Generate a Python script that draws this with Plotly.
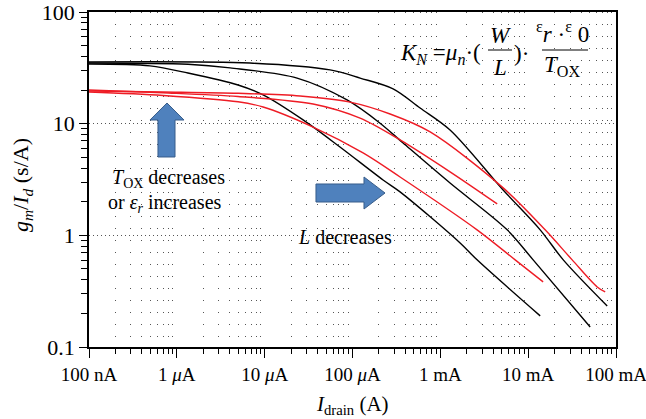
import plotly.graph_objects as go

# ---------------- data ----------------
x_tick_vals = [1e-7, 1e-6, 1e-5, 1e-4, 1e-3, 1e-2, 1e-1]
x_tick_text = ["100 nA", "1 <i>μ</i>A", "10 <i>μ</i>A", "100 <i>μ</i>A", "1 mA", "10 mA", "100 mA"]
y_tick_vals = [0.1, 1, 10, 100]
y_tick_text = ["0.1", "1", "10", "100"]

# black curves
b1_x = [1e-7, 4.95e-7, 1.34e-6, 4.98e-6, 9.6e-6, 2.74e-5, 7.2e-5, 2.23e-4, 3.48e-4, 1.68e-3, 2.62e-3, 1.37e-2]
b1_y = [34.2, 32.9, 28.4, 22.2, 18.1, 10.8, 6.18, 3.13, 2.45, 0.855, 0.603, 0.190]
b2_x = [1e-7, 1.34e-6, 4.04e-6, 2.34e-5, 8.67e-5, 2.06e-4, 3.77e-4, 1.29e-3, 5.77e-3, 1.14e-2, 5.08e-2]
b2_y = [34.9, 34.0, 31.6, 25.6, 16.3, 10.1, 6.71, 2.94, 1.12, 0.603, 0.151]
b3_x = [1e-7, 6.8e-6, 5.56e-5, 1.22e-4, 2.9e-4, 5.89e-4, 1.29e-3, 5.19e-3, 1.37e-2, 2.51e-2, 7.94e-2]
b3_y = [35.7, 34.9, 30.3, 25.6, 20.5, 13.8, 8.78, 2.55, 1.12, 0.603, 0.233]

# red curves
r1_x = [1e-7, 6.97e-7, 4.98e-6, 9.6e-6, 3.56e-5, 1.32e-4, 3.48e-4, 2.62e-3, 7.11e-3, 1.48e-2]
r1_y = [19.2, 17.9, 15.7, 14.1, 9.33, 5.47, 3.33, 1.12, 0.603, 0.383]
r2_x = [1e-7, 6.97e-7, 4.98e-6, 3.56e-5, 1.22e-4, 3.48e-4, 1.29e-3, 4.44e-3]
r2_y = [20.0, 18.9, 17.5, 15.0, 11.2, 7.15, 3.70, 1.91]
r3_x = [1e-7, 6.97e-7, 4.98e-6, 2.53e-5, 9.4e-5, 2.68e-4, 7.66e-4, 5.19e-3, 1.56e-2, 3.17e-2, 6.11e-2, 7.53e-2]
r3_y = [19.6, 19.2, 18.7, 17.7, 15.6, 12.2, 8.43, 2.66, 1.12, 0.603, 0.345, 0.311]

minor_x = [k * 10 ** e for e in range(-7, -1) for k in range(2, 10)]
minor_y = [k * 10 ** e for e in range(-1, 2) for k in range(2, 10)]

FONT = "Times New Roman, Liberation Serif, serif"
RED = "#EE1C25"

fig = go.Figure()
for xs, ys, c in [(b1_x, b1_y, "black"), (b2_x, b2_y, "black"), (b3_x, b3_y, "black"),
                  (r1_x, r1_y, RED), (r2_x, r2_y, RED), (r3_x, r3_y, RED)]:
    fig.add_trace(go.Scatter(x=xs, y=ys, mode="lines",
                             line=dict(color=c, width=1.4, shape="spline", smoothing=0.9),
                             showlegend=False, hoverinfo="skip"))

W_FIG, H_FIG = 646, 419
# plot area in window pixels (for decorations)
L, R, T, B = 89, 616, 12, 347
def P(px, py):
    return (px - L) / (R - L), (B - py) / (B - T)

def path(pts):
    s = ""
    for i, (px, py) in enumerate(pts):
        x, y = P(px, py)
        s += ("M" if i == 0 else "L") + f"{x:.4f},{y:.4f} "
    return s + "Z"

up_arrow = [(167, 103), (184, 120), (175, 120), (175, 157), (158, 157), (158, 120), (150, 120)]
right_arrow = [(316, 184), (364, 184), (364, 177), (385, 193), (364, 209), (364, 202), (316, 202)]
for pts in (up_arrow, right_arrow):
    fig.add_shape(type="path", xref="paper", yref="paper", path=path(pts),
                  fillcolor="#4F81BD", line=dict(color="#385D8A", width=1))

def text(px, py, s, size=19, anchor="center", angle=0):
    x, y = P(px, py)
    fig.add_annotation(x=x, y=y, xref="paper", yref="paper", text=s, showarrow=False,
                       xanchor=anchor, yanchor="middle", textangle=angle,
                       font=dict(family=FONT, size=size, color="black"))

def bar(x0, x1, py):
    a, y = P(x0, py)
    b, _ = P(x1, py)
    fig.add_shape(type="line", xref="paper", yref="paper", x0=a, x1=b, y0=y, y1=y,
                  line=dict(color="black", width=1))

# formula
text(398, 54, "<i>K</i><sub><i>N</i></sub> =<i>μ</i><sub><i>n</i></sub>·(", size=23, anchor="left")
text(500, 35, "<i>W</i>", size=23)
bar(488, 512, 50)
text(500, 67, "<i>L</i>", size=23)
text(512, 54, ")·", size=23, anchor="left")
text(562, 33, "<sup>ε</sup><i>r</i>&nbsp;·<sup>ε</sup>&nbsp;0", size=23)
bar(542, 588, 50)
text(562, 66, "<i>T</i><sub>OX</sub>", size=23)

text(168, 178, "<i>T</i><sub>OX</sub> decreases", size=20)
text(165, 203, "or <i>ε</i><sub><i>r</i></sub> increases", size=20)
text(345, 237, "<i>L</i> decreases", size=20)

# axis titles
text(352, 405, "<i>I</i><sub>drain</sub> (A)", size=21)
text(22, 185, "<i>g</i><sub><i>m</i></sub>/<i>I</i><sub><i>d</i></sub> (s/A)", size=22, angle=-90)

fig.update_layout(
    width=W_FIG, height=H_FIG,
    margin=dict(l=L, r=W_FIG - R, t=T, b=H_FIG - B),
    paper_bgcolor="white", plot_bgcolor="white",
    font=dict(family=FONT, size=19, color="black"),
    xaxis=dict(type="log", range=[-7, -1], tickmode="array", tickvals=x_tick_vals, ticktext=x_tick_text,
               ticks="outside", ticklen=9, tickwidth=1, tickcolor="black", automargin=False,
               ticklabeloverflow="allow",
               showline=True, linecolor="black", linewidth=1.5, mirror=True,
               showgrid=False, zeroline=False,
               tickfont=dict(family=FONT, size=19),
               minor=dict(tickmode="array", tickvals=minor_x, ticks="outside", ticklen=5,
                          tickcolor="black", tickwidth=1, showgrid=True,
                          gridcolor="#555", gridwidth=1, griddash="1px,11px")),
    yaxis=dict(type="log", range=[-1, 2], tickmode="array", tickvals=y_tick_vals, ticktext=y_tick_text,
               ticks="outside", ticklen=8, tickwidth=1, tickcolor="black", automargin=False,
               ticklabeloverflow="allow",
               showline=True, linecolor="black", linewidth=1.5, mirror=True,
               showgrid=True, gridcolor="#555", gridwidth=1, griddash="1px,3px", zeroline=False,
               tickfont=dict(family=FONT, size=22),
               minor=dict(tickmode="array", tickvals=minor_y, ticks="outside", ticklen=6,
                          tickcolor="black", tickwidth=1, showgrid=False)),
)

# remove the default 8px page margin so the figure fills the window exactly
fig.write_html("out.html", config={"displayModeBar": False},
               post_script="document.body.style.margin='0';")
